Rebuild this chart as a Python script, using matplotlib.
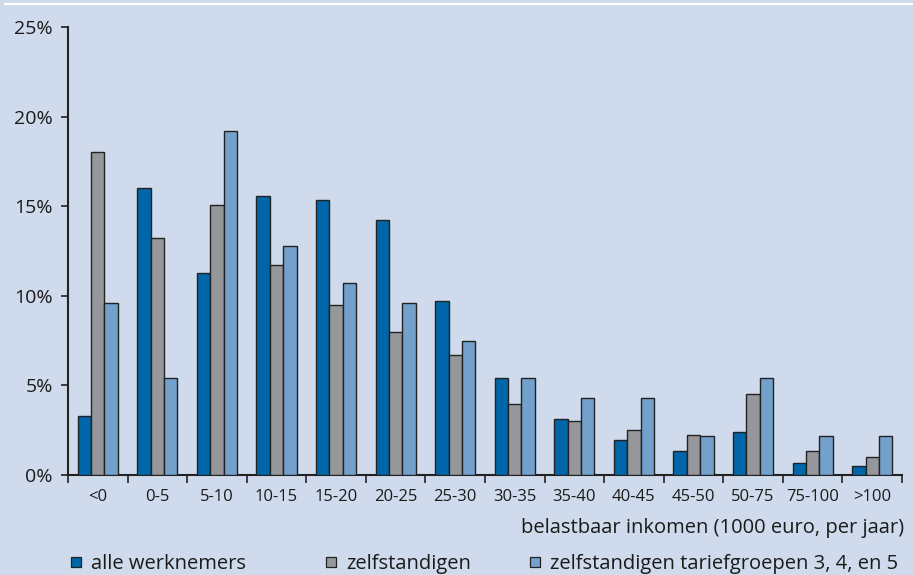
import matplotlib.pyplot as plt
import numpy as np
from matplotlib.lines import Line2D
from matplotlib.patches import Rectangle

categories = ["<0", "0-5", "5-10", "10-15", "15-20", "20-25", "25-30", "30-35",
              "35-40", "40-45", "45-50", "50-75", "75-100", ">100"]
werknemers = [3.3, 16.0, 11.3, 15.55, 15.35, 14.25, 9.7, 5.4, 3.1, 1.95, 1.35, 2.4, 0.65, 0.5]
zelfstandigen = [18.0, 13.2, 15.05, 11.7, 9.5, 8.0, 6.7, 3.95, 3.0, 2.5, 2.25, 4.5, 1.35, 1.0]
zelf_tarief = [9.6, 5.4, 19.2, 12.8, 10.7, 9.6, 7.5, 5.4, 4.3, 4.3, 2.2, 5.4, 2.2, 2.2]
series_names = ["alle werknemers", "zelfstandigen", "zelfstandigen tariefgroepen 3, 4, en 5"]

bg = "#cfdbec"
colors = ["#0066aa", "#96979b", "#74a0cc"]
edge = "#222222"
txt = "#1a1a1a"

plt.rcParams['font.family'] = ['Open Sans', 'DejaVu Sans']

W, H = 913, 575
fig = plt.figure(figsize=(W / 100, H / 100), dpi=100, facecolor=bg)
ax = fig.add_axes([68 / W, 1 - 475 / H, 834 / W, 448 / H])
ax.set_facecolor(bg)

x = np.arange(len(categories))
w = 0.225
for i, vals in enumerate([werknemers, zelfstandigen, zelf_tarief]):
    ax.bar(x + (i - 1) * w, vals, width=w, color=colors[i], edgecolor=edge,
           linewidth=1.0, zorder=3)

ax.set_xlim(-0.5, len(categories) - 0.5)
ax.set_ylim(0, 25)
ax.set_yticks([0, 5, 10, 15, 20, 25])
ax.set_yticklabels(["0%", "5%", "10%", "15%", "20%", "25%"], fontsize=14, color=txt)
ax.set_xticks(x)
ax.set_xticklabels(categories, fontsize=12, color=txt)
ax.set_xticks(np.arange(len(categories) + 1) - 0.5, minor=True)
ax.tick_params(axis='x', which='major', length=0, pad=10)
ax.tick_params(axis='x', which='minor', length=6, width=1.2, color=edge)
ax.tick_params(axis='y', length=5, width=1.2, color=edge, pad=6)

for s in ["top", "right"]:
    ax.spines[s].set_visible(False)
for s in ["left", "bottom"]:
    ax.spines[s].set_linewidth(1.5)
    ax.spines[s].set_color(edge)

fig.text(904 / W, 1 - 533 / H, "belastbaar inkomen (1000 euro, per jaar)",
         ha="right", va="baseline", fontsize=14.5, color=txt)

# legend along the bottom
mark_x = [71, 326, 530]
for i, name in enumerate(series_names):
    fig.add_artist(Rectangle((mark_x[i] / W, 1 - 567 / H), 10 / W, 10 / H,
                             facecolor=colors[i], edgecolor=edge, linewidth=0.9,
                             transform=fig.transFigure))
    fig.text((mark_x[i] + 20) / W, 1 - 569 / H, name, ha="left", va="baseline",
             fontsize=14.5, color=txt)

fig.add_artist(Line2D([5 / W, 1], [1 - 3.5 / H, 1 - 3.5 / H], color="white",
                      linewidth=1.5, transform=fig.transFigure))

fig.savefig("out.png", dpi=100, facecolor=bg)
